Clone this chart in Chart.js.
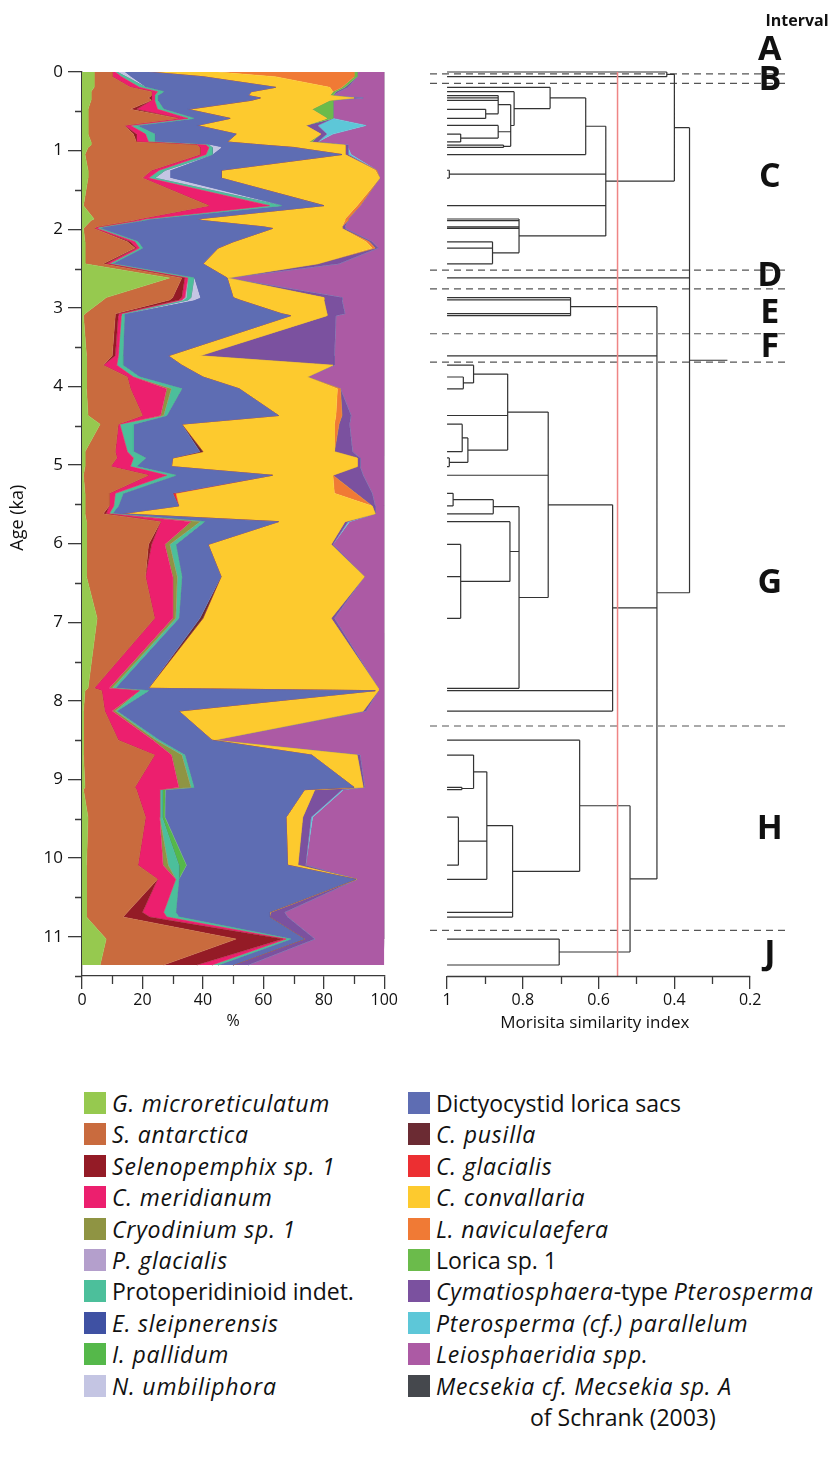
<!DOCTYPE html>
<html>
<head>
<meta charset="utf-8">
<script src="https://cdn.jsdelivr.net/npm/chart.js@4.4.1/dist/chart.umd.min.js"></script>
<style>
  html, body { margin: 0; padding: 0; background: #fff; }
  body { width: 830px; height: 1459px; position: relative; overflow: hidden; font-family: "Open Sans", sans-serif; }
  canvas { position: absolute; top: 0; }
  .item { position: absolute; display: flex; align-items: flex-start; font-size: 23px; line-height: 31px; color: #111; white-space: nowrap; }
  .sw { width: 22px; height: 22px; margin-top: 4px; margin-right: 6px; flex: none; }
  .item i { font-style: italic; letter-spacing: 0.8px; }
</style>
</head>
<body>
<canvas id="areaChart" width="400" height="1040" style="left:0;width:400px;height:1040px"></canvas>
<canvas id="dendroChart" width="430" height="1040" style="left:400px;width:430px;height:1040px"></canvas>
<div id="legend"></div>
<script>
// sample ages (ka), also the dendrogram leaves
var ages = [0, 0.06, 0.195, 0.25, 0.30, 0.33, 0.36, 0.475, 0.59, 0.68,
  0.79, 0.89, 0.93, 0.96, 1.05, 1.25, 1.35, 1.70, 1.87, 1.89,
  1.97, 1.99, 2.16, 2.24, 2.44, 2.62, 2.87, 2.90, 3.075, 3.10,
  3.61, 3.73, 3.88, 4.03, 4.37, 4.48, 4.83, 4.91, 5.02, 5.13,
  5.36, 5.52, 5.62, 5.72, 6.01, 6.42, 6.95, 7.84, 7.87, 8.13,
  8.50, 8.69, 9.10, 9.13, 9.48, 10.09, 10.27, 10.69, 10.75, 11.03,
  11.36];

// relative abundance (%) per taxon, one value per sample age
var gMicro = [4,4,4,3,3,3,3,2,2,2, 2,3,3,2,1,2,2,0.5,4,3, 1,0.5,1,1,1,29,8,7,1,0.5, 1.5,1.5,1.5,1.5,2,6,1,1,1,0.5, 1,1,1,1.5,1.5,1.5,5,2,1,0.5, 0.5,0.5,1,0.5,2,1.5,1.5,1.5,1.5,8, 6];
var sAnt = [6,6,12,20,20,19,20,14,30,12, 15,15,35,37,38,21,18,41.5,15,14, 4,3.5,14,16.5,6,4,22,22,10,10.5, 8.5,5.5,13.5,14.5,18,6,10,10.5,8.5,21.5, 8,8,6,24.5,20.5,19.5,19,2,5.5,7, 11.5,23.5,16.5,17.5,19,17,23.5,13.5,12.1,43, 21];
var selen = [0,0,0,0,0,1,0,2,0,0, 1,0,0,0,0,0,0,0,0,0, 0,0,1,0.5,1,1,3,3,1,1, 1,0,0,0,0,0,0,0,0,0, 0,0,1,0,1,0,0,0,0,0, 0,0,0,0,0,0,0,5,8.8,15.4, 11];
var cMerid = [1,3,3,2,1,1,1,7,3,2, 3,4,3,3,2,2.5,2,20,2,2, 1,1,1.5,1,1,1,1,1,1,1, 1,4.5,2,12,6,0.5,4,5.5,6.5,6, 2,1.5,1,10,4.4,9,6,5,12.5,2.5, 11.5,5.6,14.5,7.7,4.7,8.3,6,7,5.6,1.1, 5];
var cryod = [0,0,0,0,0,0,0,0,0,0, 0,0,0,0,0,0,0,0,0,0, 0,0,0,0,0,0,0,0,0,0, 0,0,0,1.5,1,0,0,0,0,0, 0,0,0,3,1.6,1.5,1,1,0,1, 1,3.4,4,0,0,1.7,0,0,0,0, 0];
var pGlac = [0,0,0,0,0,0,0,0,0,0, 0,0,0,0,0,0,0,0,0,0, 0,0,0,0,0,0,0.5,0.5,0,0, 0,0,0,0,0,0,0,0,0,0, 0,0,0,0,0,0,0,0,0,0, 0,0,0,0,0,0,0,0,0,0, 0];
var proto = [0.5,1.5,2,2,1,1,1,2,2,2, 3,2,1,1,2,2,2,4,1.5,1, 1,1,1,1,1,2,1.5,1.5,1,1, 1.5,2,2,3.5,1,4.5,2,4,2,3, 2.6,1.5,1,1.5,2,1.5,1,1,3,0.5, 1,1,1,0.8,0.8,3.5,1,4,4,1.5, 2];
var eSleip = [0,0,0,0,0,0,0,0,0,0, 0,0,0,0,0,0,0,0,0,0, 0,0,0,0,0,0,0,0,0,0, 0,0,0,0,0,0,0,0,0,0, 0,0,0,0,0,0,0,0,0,0, 0,0,0,0,0,0,0,0,0,0, 0];
var iPall = [0,0,0,0,0,0,0,0,0,0, 0,0,0,0,0,0,0,0,0,0, 0,0,0,0,0,0,0,0,0,0, 0,0,0,0,0,0,0,0,0,0, 0,0,0,0,0,0,0,0,0,0, 0,0,0,1,0.9,2.5,0,0,0,0, 0];
var nUmbi = [2.5,1.5,0,0,0,0,0,0,0,0, 0,0,0,3,0,1.5,5,0,0,0, 0,0,0,0,0,0,3,2,0,0, 0,0,0,0,0,0,0,0,0,0, 0,0,0,0,0,0,0,0,0,0, 0,0,0,0,0,0,0,0,0,0, 0];
var dicty = [8,24,43,29,30,34,31,8,12,20, 27,24,18,24,43,17,17,14,15.5,20, 53,57,31.5,25,30,11,11,15,52,55, 15,19.5,21,19,37,16,22,9,11.6,32, 16.4,20,3,24.5,10.7,13,7,11,75,20.5, 17.5,42,53,46.1,40.1,33.5,58.6,31,30,4.6, 5];
var cPus = [0,0,0,0,0,0,0,0,0,0, 0,0,0,0,0,0,0,0,0,0, 0,0,0,0,0,0,0,0,0,0, 0,0,0,0,0,0,1,0,0,0, 0,0,0,0,0,0,1,0,0,0, 0,0,0,0,0,0,0,0,0,0, 0];
var cGlac = [0,0,0,0,0,0,0,0,0,0, 0,0,0,0,0,0,0,0,0,0, 0,0,0,0,0,0,0,0,0,0, 0,0,0,0,0,0,0,0,0,0, 1,0,0,0,0,0,0,0,0,0, 0,0,0,0,0,0,0,0,0,0, 0];
var cConv = [23,24,18,27,27,31,26,41,32,36, 28,27,27,17,1,51,52.5,11,49,47, 26,23,44,51,38,0,30,28,15,12, 10.5,50,34.5,32.5,19,50.5,43.5,61,61.4,20, 52.5,64,84,22,40.7,47.4,42.4,76,1,61, 0.5,15,3,3.4,5.5,3.4,0.2,0.3,0,0, 0];
var lNav = [45,26,4,0,0,0,0,0,0,0, 0,0,0,0,0,0.5,0,1,1,1, 0,0,1,1,0,0,0,0,0,0, 0,0,0,1,2,1.5,0,0,0,0, 7.1,0,0,0,0,0,0,0,0,0, 0,0,0,0,0,0,0,0,0,0, 0];
var lorica = [1,1,1,1,1,0,1,7,2,0, 0,1,0,0,0,0,0,0,0,0, 0,0,0,0,0,0,0,0,0,0, 0,0,0,0,0,0,0,0,0,0, 0,0,0,0,0,0,0,0,0,0, 0,0,0,0,0,0,0,0,0,0, 0];
var cymat = [0,0,1,1,0,3,0,0,0,4, 2,2,1,1,1,0,0,0,0,0, 1,1,1,1,7,0,6,6,6,3, 44.5,0.5,0,0,3,3.5,6,1,1,10, 5.4,1,0,1,0.6,0,1.1,0,0,1, 0,1,0.5,9,2.8,2.6,0.2,4.7,6,3.4, 5];
var ptero = [0,0,0,0,0,0,0,0,0,16, 2,0,0,0,1,0,0,0,0,0, 0,0,0,0,0,0,0,0,0,0, 0,0,0,0,0,0,0,0,0,0, 0,0,0,0.5,0,0,0,0,0,0, 0,0,0,0.5,0.5,0,0,0,0,0, 0];
var leio = [9,9,12,15,17,7,17,17,17,6, 17,22,12,12,11,2.5,1.5,8,12,12, 13,13,4,2,15,52,14,14,13,16, 16.5,16.5,25.5,14.5,11,11.5,10.5,8,8,7, 4,3,3,11.5,17,6.6,16.5,2,2,6, 56.5,8,6.5,13.5,23.7,26,9,33,32,23, 46];
var mecs = [0,0,0,0,0,0,0,0,0,0, 0,0,0,0,0,0,0,0,0,0, 0,0,0,0,0,0,0,0,0,0, 0,0,0,0,0,0,0,0,0,0, 0,0,0,0,0,0,0,0,0,0, 0,0,0,0,0,0,0,0,0,0, 0];

var series = [gMicro, sAnt, selen, cMerid, cryod, pGlac, proto, eSleip, iPall, nUmbi,
  dicty, cPus, cGlac, cConv, lNav, lorica, cymat, ptero, leio, mecs];
var taxa = ['G. microreticulatum', 'S. antarctica', 'Selenopemphix sp. 1', 'C. meridianum',
  'Cryodinium sp. 1', 'P. glacialis', 'Protoperidinioid indet.', 'E. sleipnerensis',
  'I. pallidum', 'N. umbiliphora', 'Dictyocystid lorica sacs', 'C. pusilla', 'C. glacialis',
  'C. convallaria', 'L. naviculaefera', 'Lorica sp. 1', 'Cymatiosphaera-type Pterosperma',
  'Pterosperma (cf.) parallelum', 'Leiosphaeridia spp.', 'Mecsekia cf. Mecsekia sp. A of Schrank (2003)'];
var legendText = ['<i>G. microreticulatum</i>', '<i>S. antarctica</i>', '<i>Selenopemphix sp. 1</i>',
  '<i>C. meridianum</i>', '<i>Cryodinium sp. 1</i>', '<i>P. glacialis</i>', 'Protoperidinioid indet.',
  '<i>E. sleipnerensis</i>', '<i>I. pallidum</i>', '<i>N. umbiliphora</i>', 'Dictyocystid lorica sacs',
  '<i>C. pusilla</i>', '<i>C. glacialis</i>', '<i>C. convallaria</i>', '<i>L. naviculaefera</i>',
  'Lorica sp. 1', '<i>Cymatiosphaera</i>-type <i>Pterosperma</i>', '<i>Pterosperma (cf.) parallelum</i>',
  '<i>Leiosphaeridia spp.</i>', '<i>Mecsekia cf. Mecsekia sp. A</i><br><span style="padding-left:94px">of Schrank (2003)</span>'];
var colors = ['#96c94f', '#c96b3e', '#941b26', '#ec1f6e', '#8f9443', '#b49fcc', '#4cbf9b', '#3f51a3',
  '#55b84a', '#c4c5e3', '#5e6db3', '#6b2b33', '#ec2f32', '#fdca2e', '#f07a35', '#6bbb4b',
  '#7b519f', '#5dc7d8', '#ac5aa4', '#45484d'];

var ageTicks = [0, 1, 2, 3, 4, 5, 6, 7, 8, 9, 10, 11];
var pctTicks = [0, 20, 40, 60, 80, 100];
var simTicks = [1, 0.8, 0.6, 0.4, 0.2];

// dendrogram: [similarity, children...]; plain numbers are indexes into ages
var tree =
  [0.26,
    [0.36,
      [0.40,
        [0.42, 0, 1],
        [0.581,
          [0.634,
            [0.728, 2,
              [0.823, 3,
                [0.832,
                  [0.865, 4, 5, 6, [0.898, 7, 8]],
                  [0.865, 9, [0.964, 10, 11]],
                  [0.851, 12, 13]]]],
            14],
          [0.994, 15, 16],
          17,
          [0.81, 18, 19, 20, 21, [0.88, 22, 23, 24]]]],
      25,
      [0.446,
        [0.674, 26, 27, 28, 29],
        30,
        [0.563,
          [0.733,
            [0.84, [0.93, 31, [0.957, 32, 33]], 34, [0.945, [0.96, 35, 36], [0.994, 37, 38]]],
            39,
            [0.81, [0.878, [0.984, 40, 41], 42], [0.834, 43, [0.964, 44, 45, 46]], 47]],
          48, 49],
        [0.517,
          [0.65, 50,
            [0.827,
              [0.895, [0.93, 51, [0.961, 52, 53]], [0.97, 54, 55], 56],
              57, 58]],
          [0.704, 59, 60]]]]];

var cutSim = 0.55;
var intervalBounds = [0.025, 0.144, 2.52, 2.76, 3.33, 3.69, 8.32, 10.92];
var intervalNames = ['A', 'B', 'C', 'D', 'E', 'F', 'G', 'H', 'J'];
var intervalLabelAges = [-0.28, 0.10, 1.34, 2.6, 3.07, 3.5, 6.5, 9.64, 11.23];

var FONT = '"Open Sans", sans-serif';
var AXIS = '#3a3a3a';
var AGE_MAX = 11.5;

Chart.defaults.font.family = FONT;
Chart.defaults.color = '#111';

/* ---------- stacked area ---------- */
var areaSets = series.map(function (vals, i) {
  return {
    label: taxa[i],
    data: vals.map(function (v, k) { return { x: v, y: ages[k] }; }),
    backgroundColor: colors[i],
    borderColor: colors[i],
    borderWidth: 0.5,
    pointRadius: 0,
    tension: 0,
    fill: i === 0 ? 'origin' : '-1'
  };
});

var areaDecor = {
  id: 'areaDecor',
  afterDraw: function (chart) {
    var ctx = chart.ctx, x = chart.scales.x, y = chart.scales.y, a = chart.chartArea;
    ctx.save();
    ctx.strokeStyle = AXIS;
    ctx.lineWidth = 1.3;
    ctx.beginPath();
    for (var v = 0.5; v <= AGE_MAX; v += 1) {
      var py = Math.round(y.getPixelForValue(v)) + 0.5;
      ctx.moveTo(a.left - 7, py); ctx.lineTo(a.left, py);
    }
    for (var p = 10; p < 100; p += 20) {
      var px = Math.round(x.getPixelForValue(p)) + 0.5;
      ctx.moveTo(px, a.bottom); ctx.lineTo(px, a.bottom + 8);
    }
    ctx.stroke();
    ctx.fillStyle = '#111';
    ctx.textAlign = 'center';
    ctx.textBaseline = 'middle';
    ctx.font = '16px ' + FONT;
    ctx.fillText('%', x.getPixelForValue(50), a.bottom + 45);
    ctx.translate(18, y.getPixelForValue(5.67));
    ctx.rotate(-Math.PI / 2);
    ctx.font = '18px ' + FONT;
    ctx.fillText('Age (ka)', 0, 0);
    ctx.restore();
  }
};

new Chart(document.getElementById('areaChart').getContext('2d'), {
  type: 'line',
  data: { datasets: areaSets },
  options: {
    indexAxis: 'y',
    responsive: false,
    animation: false,
    events: [],
    layout: { padding: { top: 72, right: 15, left: 0, bottom: 0 } },
    plugins: { legend: { display: false }, tooltip: { enabled: false } },
    scales: {
      x: {
        type: 'linear', min: 0, max: 100, stacked: true,
        afterBuildTicks: function (s) { s.ticks = pctTicks.map(function (v) { return { value: v }; }); },
        afterFit: function (s) { s.height = 64; },
        grid: { drawOnChartArea: false, tickLength: 13, color: AXIS, lineWidth: 1.3 },
        border: { color: AXIS, width: 1.3 },
        ticks: { font: { size: 16 }, padding: 2, maxRotation: 0, autoSkip: false }
      },
      y: {
        type: 'linear', reverse: true, min: 0, max: AGE_MAX,
        afterBuildTicks: function (s) { s.ticks = ageTicks.map(function (v) { return { value: v }; }); },
        afterFit: function (s) { s.width = 82; },
        grid: { drawOnChartArea: false, tickLength: 14, color: AXIS, lineWidth: 1.3 },
        border: { color: AXIS, width: 1.3 },
        ticks: { font: { size: 17 }, padding: 5, autoSkip: false }
      }
    }
  },
  plugins: [areaDecor]
});

/* ---------- dendrogram ---------- */
var segs = [];
function addSeg(s0, s1, a0, a1) {
  segs.push({ x: s0, y: a0 }, { x: s1, y: a1 }, { x: null, y: null });
}
function layout(node) {
  if (typeof node === 'number') return { y: ages[node], s: 1 };
  var s = node[0];
  var kids = node.slice(1).map(layout);
  var ys = kids.map(function (k) { return k.y; });
  kids.forEach(function (k) { addSeg(k.s, s, k.y, k.y); });
  var y0 = Math.min.apply(null, ys), y1 = Math.max.apply(null, ys);
  addSeg(s, s, y0, y1);
  return { y: (y0 + y1) / 2, s: s };
}
layout(tree);

var SIM_LEFT = 1.045, SIM_RIGHT = 0.108;
var dashSegs = [];
intervalBounds.forEach(function (b) {
  dashSegs.push({ x: SIM_LEFT, y: b }, { x: SIM_RIGHT, y: b }, { x: null, y: null });
});

var dendroDecor = {
  id: 'dendroDecor',
  afterDraw: function (chart) {
    var ctx = chart.ctx, x = chart.scales.x, y = chart.scales.y, a = chart.chartArea;
    ctx.save();
    ctx.strokeStyle = AXIS;
    ctx.lineWidth = 1.3;
    ctx.beginPath();
    ctx.moveTo(x.getPixelForValue(1), a.bottom + 0.5);
    ctx.lineTo(x.getPixelForValue(0.2), a.bottom + 0.5);
    [0.9, 0.7, 0.5, 0.3].forEach(function (v) {
      var px = Math.round(x.getPixelForValue(v)) + 0.5;
      ctx.moveTo(px, a.bottom); ctx.lineTo(px, a.bottom + 8);
    });
    ctx.stroke();
    ctx.fillStyle = '#111';
    ctx.textAlign = 'center';
    ctx.textBaseline = 'middle';
    ctx.font = '17px ' + FONT;
    ctx.fillText('Morisita similarity index', x.getPixelForValue(0.61), a.bottom + 47);
    ctx.font = 'bold 16px ' + FONT;
    ctx.fillText('Interval', 397, 21);
    ctx.font = 'bold 34px ' + FONT;
    intervalNames.forEach(function (n, i) {
      ctx.fillText(n, x.getPixelForValue(0.148), y.getPixelForValue(intervalLabelAges[i]));
    });
    ctx.restore();
  }
};

new Chart(document.getElementById('dendroChart').getContext('2d'), {
  type: 'scatter',
  data: {
    datasets: [
      { data: segs, showLine: true, borderColor: '#333', borderWidth: 1.2, pointRadius: 0, spanGaps: false, clip: 6, order: 2 },
      { data: dashSegs, showLine: true, borderColor: '#555', borderWidth: 1.2, borderDash: [7, 5], pointRadius: 0, spanGaps: false, clip: 6, order: 3 },
      { data: [{ x: cutSim, y: 0 }, { x: cutSim, y: AGE_MAX }], showLine: true, borderColor: '#ef8585', borderWidth: 1.5, pointRadius: 0, order: 1 }
    ]
  },
  options: {
    responsive: false,
    animation: false,
    events: [],
    layout: { padding: { top: 72, right: 45, left: 30, bottom: 0 } },
    plugins: { legend: { display: false }, tooltip: { enabled: false } },
    scales: {
      x: {
        type: 'linear', reverse: true, min: SIM_RIGHT, max: SIM_LEFT,
        afterBuildTicks: function (s) { s.ticks = simTicks.map(function (v) { return { value: v }; }); },
        afterFit: function (s) { s.height = 64; },
        grid: { drawOnChartArea: false, tickLength: 13, color: AXIS, lineWidth: 1.3 },
        border: { display: false },
        ticks: { font: { size: 16 }, padding: 2, maxRotation: 0, autoSkip: false,
          callback: function (v) { return String(Math.round(v * 10) / 10); } }
      },
      y: { type: 'linear', display: false, reverse: true, min: 0, max: AGE_MAX }
    }
  },
  plugins: [dendroDecor]
});

/* ---------- legend ---------- */
var legend = document.getElementById('legend');
taxa.forEach(function (t, i) {
  var col = i < 10 ? 0 : 1;
  var row = i % 10;
  var el = document.createElement('div');
  el.className = 'item';
  el.style.left = (col ? 408 : 84) + 'px';
  el.style.top = (1088 + row * 31.4) + 'px';
  el.innerHTML = '<span class="sw" style="background:' + colors[i] + '"></span><span>' + legendText[i] + '</span>';
  legend.appendChild(el);
});
</script>
</body>
</html>
